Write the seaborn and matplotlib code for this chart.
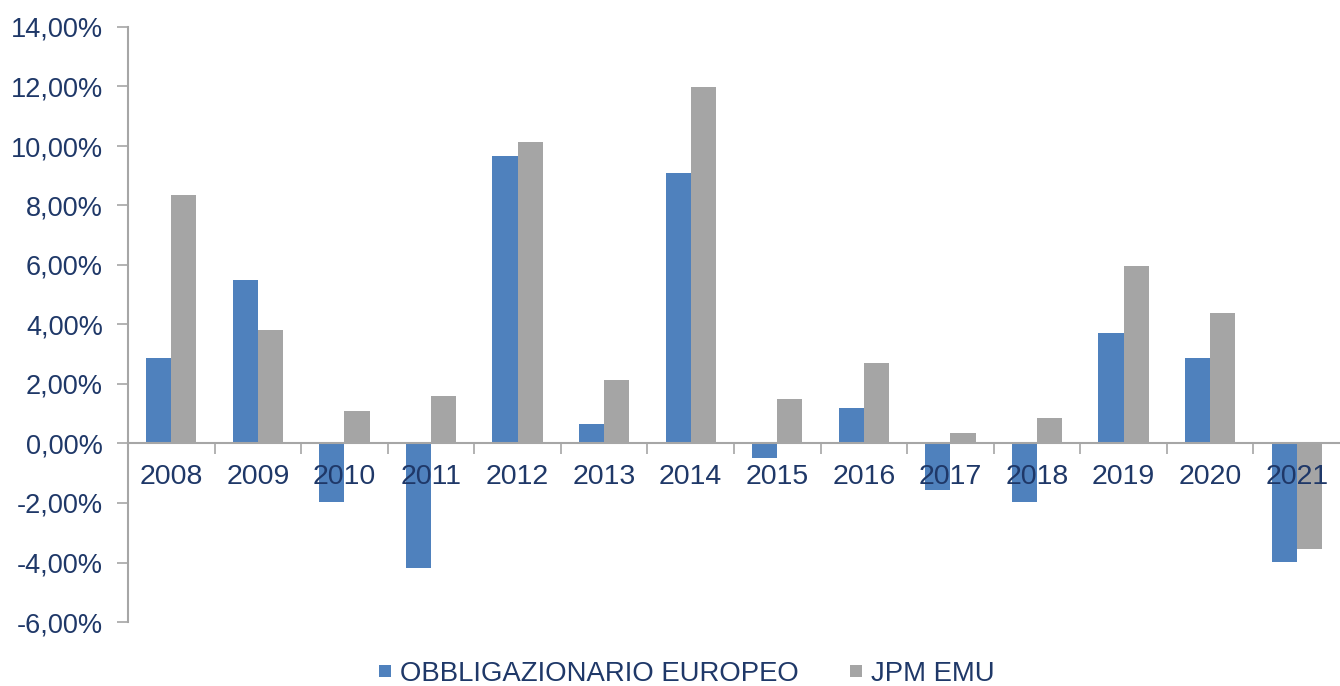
import matplotlib
matplotlib.use("Agg")
import matplotlib.pyplot as plt
import seaborn as sns
import pandas as pd
from matplotlib.ticker import FuncFormatter, FixedLocator
from matplotlib.lines import Line2D

years = ["2008", "2009", "2010", "2011", "2012", "2013", "2014",
         "2015", "2016", "2017", "2018", "2019", "2020", "2021"]
obbligazionario = [2.89, 5.48, -1.98, -4.17, 9.68, 0.64, 9.08,
                   -0.50, 1.18, -1.55, -1.98, 3.70, 2.89, -3.97]
jpm_emu = [8.34, 3.83, 1.08, 1.58, 10.12, 2.15, 11.97,
           1.51, 2.72, 0.34, 0.87, 5.98, 4.40, -3.53]
series_names = ["OBBLIGAZIONARIO EUROPEO", "JPM EMU"]
colors = ["#4F81BD", "#A5A5A5"]

df = pd.DataFrame({
    "year": years * 2,
    "value": obbligazionario + jpm_emu,
    "series": [series_names[0]] * len(years) + [series_names[1]] * len(years),
})

sns.set_theme(style="white")
plt.rcParams["font.family"] = ["Liberation Sans", "DejaVu Sans"]

text_color = "#1F3868"
axis_color = "#A6A6A6"

fig = plt.figure(figsize=(13.4, 6.86), dpi=100)
ax = fig.add_axes([128 / 1340, 1 - 622 / 686, 1 - 128 / 1340, (622 - 27) / 686])

sns.barplot(data=df, x="year", y="value", hue="series", order=years,
            hue_order=series_names, palette=colors, width=0.58,
            saturation=1, ax=ax, legend=False, linewidth=0, edgecolor="none")

ax.set_axisbelow(False)
ax.set_ylim(-6, 14)
ax.set_xlim(-0.5, len(years) - 0.5)
ax.set_yticks(range(-6, 15, 2))
ax.yaxis.set_major_formatter(FuncFormatter(lambda v, p: f"{v:.2f}%".replace(".", ",")))
ax.set_xlabel("")
ax.set_ylabel("")

for s in ["top", "right"]:
    ax.spines[s].set_visible(False)
ax.spines["left"].set_color(axis_color)
ax.spines["left"].set_linewidth(1.5)
ax.spines["bottom"].set_color(axis_color)
ax.spines["bottom"].set_linewidth(1.5)
ax.spines["bottom"].set_position(("data", 0))

ax.tick_params(axis="y", which="major", direction="out", length=8, width=1.2,
               color=axis_color, labelsize=19.5, labelcolor=text_color, pad=10, left=True)
ax.tick_params(axis="x", which="major", length=0, labelsize=20.5,
               labelcolor=text_color, pad=15)
ax.xaxis.set_minor_locator(FixedLocator([i + 0.5 for i in range(len(years) - 1)]))
ax.tick_params(axis="x", which="minor", direction="out", length=8, width=1.2,
               color=axis_color, bottom=True)

handles = [Line2D([], [], linestyle="none", marker="s", markersize=8,
                  markerfacecolor=c, markeredgewidth=0) for c in colors]
leg = ax.legend(handles, series_names, loc="center", ncol=2, frameon=False,
                fontsize=19.8, labelcolor=text_color,
                handlelength=0.4, handletextpad=0.33, columnspacing=1.9)
leg.set_bbox_to_anchor((687 / 1340, 1 - 674 / 686), transform=fig.transFigure)

fig.savefig("out.png", dpi=100)
